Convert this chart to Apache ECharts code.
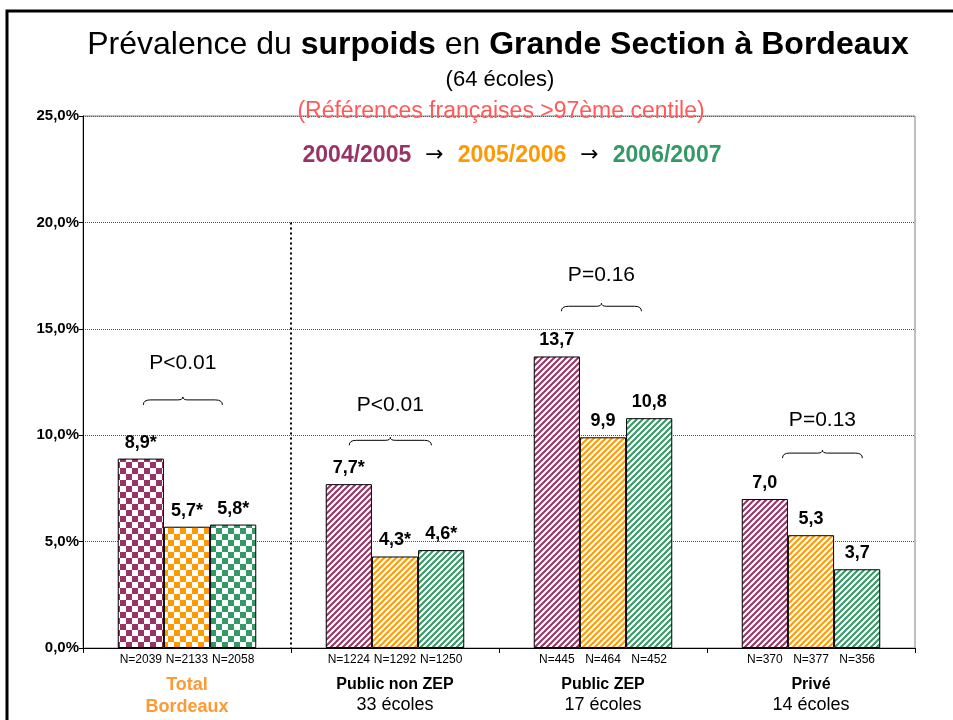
<!DOCTYPE html>
<html>
<head>
<meta charset="utf-8">
<script src="https://cdn.jsdelivr.net/npm/echarts@6/dist/echarts.min.js"></script>
<style>
  html, body { margin: 0; padding: 0; background: #fff; }
  #chart { width: 953px; height: 720px; }
</style>
</head>
<body>
<div id="chart"></div>
<script>
// data
const groups = ['Total', 'Public non ZEP', 'Public ZEP', 'Privé'];
const groupSub = ['Bordeaux', '33 écoles', '17 écoles', '14 écoles'];
const seasons = ['2004/2005', '2005/2006', '2006/2007'];

const prev0405 = [8.9, 7.7, 13.7, 7.0];
const prev0506 = [5.7, 4.3, 9.9, 5.3];
const prev0607 = [5.8, 4.6, 10.8, 3.7];
const star0405 = ['*', '*', '', ''];
const star0506 = ['*', '*', '', ''];
const star0607 = ['*', '*', '', ''];

const n0405 = [2039, 1224, 445, 370];
const n0506 = [2133, 1292, 464, 377];
const n0607 = [2058, 1250, 452, 356];

const pText = ['P<0.01', 'P<0.01', 'P=0.16', 'P=0.13'];
const pBraceVal = [11.8, 9.9, 16.2, 9.3];   // y of brace (in %)
const pTextVal = [13.4, 11.4, 17.5, 10.7];  // y of p label (in %)

const yTicks = [0, 5, 10, 15, 20, 25];

// layout / style
const colors = ['#993366', '#FF9900', '#339966'];
const barFrac = 0.222;
// brace extent as a fraction of category width, relative to category centre
const braceSpan = [[-0.21, 0.17], [-0.22, 0.175], [-0.2, 0.185], [-0.137, 0.247]];

function checker(col) {
    const c = document.createElement('canvas');
    c.width = 12; c.height = 12;
    const ctx = c.getContext('2d');
    ctx.fillStyle = '#fff';
    ctx.fillRect(0, 0, 12, 12);
    ctx.fillStyle = col;
    ctx.fillRect(0, 0, 6, 6);
    ctx.fillRect(6, 6, 6, 6);
    return { image: c, repeat: 'repeat' };
}

function stripes(col) {
    const p = 6;
    const c = document.createElement('canvas');
    c.width = p; c.height = p;
    const ctx = c.getContext('2d');
    ctx.fillStyle = '#fff';
    ctx.fillRect(0, 0, p, p);
    ctx.strokeStyle = col;
    ctx.lineWidth = 2;
    ctx.beginPath();
    ctx.moveTo(-1, p + 1); ctx.lineTo(p + 1, -1);
    ctx.moveTo(-1, 1); ctx.lineTo(1, -1);
    ctx.moveTo(p - 1, p + 1); ctx.lineTo(p + 1, p - 1);
    ctx.stroke();
    return { image: c, repeat: 'repeat' };
}

const checkers = colors.map(checker);
const stripeFills = colors.map(stripes);

function fmt(v) {
    return v.toFixed(1).replace('.', ',');
}

function barSeries(name, values, stars, s) {
    return {
        name: name,
        type: 'bar',
        barWidth: (barFrac * 100) + '%',
        barGap: '0%',
        data: values.map((v, i) => ({
            value: v,
            itemStyle: { color: i === 0 ? checkers[s] : stripeFills[s] }
        })),
        itemStyle: { borderColor: '#000', borderWidth: 1 },
        label: {
            show: true,
            position: 'top',
            distance: 7,
            fontFamily: 'Liberation Sans, Arial',
            fontWeight: 'bold',
            fontSize: 18,
            color: '#000',
            formatter: p => fmt(p.value) + stars[p.dataIndex]
        },
        z: 3
    };
}

const nData = [];
[n0405, n0506, n0607].forEach((arr, s) => {
    arr.forEach((n, i) => nData.push([i, s, n]));
});

const braceData = pText.map((t, i) => [i, pBraceVal[i], pTextVal[i]]);

var chartDom = document.getElementById('chart');
var myChart = echarts.init(chartDom);

var option = {
    animation: false,
    backgroundColor: '#fff',
    textStyle: { fontFamily: 'Liberation Sans, Arial' },
    title: [
        {
            left: 493, top: 24, textAlign: 'center',
            text: '{n|Prévalence du }{b|surpoids}{n| en }{b|Grande Section à Bordeaux}',
            textStyle: {
                fontWeight: 'normal',
                rich: {
                    n: { fontSize: 32, color: '#000', fontWeight: 'normal', fontFamily: 'Liberation Sans' },
                    b: { fontSize: 32, color: '#000', fontWeight: 'bold', fontFamily: 'Liberation Sans' }
                }
            }
        },
        {
            left: 495, top: 64, textAlign: 'center',
            text: '(64 écoles)',
            textStyle: { fontSize: 22, fontWeight: 'normal', color: '#000', fontFamily: 'Liberation Sans' }
        },
        {
            left: 496, top: 95, textAlign: 'center',
            text: '(Références françaises >97ème centile)',
            textStyle: { fontSize: 23, fontWeight: 'normal', color: '#FF5A5A', fontFamily: 'Liberation Sans' }
        },
        {
            left: 507, top: 139, textAlign: 'center',
            text: '{a|' + seasons[0] + '}{r|  →  }{b|' + seasons[1] + '}{r|  →  }{c|' + seasons[2] + '}',
            textStyle: {
                rich: {
                    a: { fontSize: 23, fontWeight: 'bold', color: colors[0], fontFamily: 'Liberation Sans' },
                    b: { fontSize: 23, fontWeight: 'bold', color: colors[1], fontFamily: 'Liberation Sans' },
                    c: { fontSize: 23, fontWeight: 'bold', color: colors[2], fontFamily: 'Liberation Sans' },
                    r: { fontSize: 22, fontWeight: 'normal', color: '#000', fontFamily: 'DejaVu Sans' }
                }
            }
        }
    ],
    graphic: [
        {
            type: 'rect',
            shape: { x: 7, y: 11, width: 970, height: 730 },
            style: { fill: 'none', stroke: '#000', lineWidth: 3 },
            silent: true
        }
    ],
    grid: {
        left: 83, right: 38, top: 116, bottom: 72,
        show: true, borderColor: '#808080', borderWidth: 1
    },
    xAxis: {
        type: 'category',
        data: groups,
        axisLine: { lineStyle: { color: '#000', width: 1 } },
        axisTick: { show: true, length: 5, lineStyle: { color: '#000' } },
        axisLabel: {
            margin: 26,
            interval: 0,
            formatter: (v, i) => i === 0
                ? '{o|' + v + '}\n{o|' + groupSub[i] + '}'
                : '{b|' + v + '}\n{n|' + groupSub[i] + '}',
            rich: {
                o: { fontSize: 18, fontWeight: 'bold', color: '#FF9933', lineHeight: 22, fontFamily: 'Liberation Sans' },
                b: { fontSize: 16, fontWeight: 'bold', color: '#000', lineHeight: 21, fontFamily: 'Liberation Sans' },
                n: { fontSize: 18, color: '#000', lineHeight: 21, fontFamily: 'Liberation Sans' }
            }
        }
    },
    yAxis: {
        type: 'value',
        min: yTicks[0],
        max: yTicks[yTicks.length - 1],
        interval: 5,
        axisLine: { show: true, lineStyle: { color: '#000' } },
        axisTick: { show: true, length: 4, lineStyle: { color: '#000' } },
        axisLabel: {
            margin: 4,
            fontSize: 15,
            fontWeight: 'bold',
            color: '#000',
            padding: [8, 0, 0, 0],
            fontFamily: 'Liberation Sans',
            formatter: v => fmt(v) + '%'
        },
        splitLine: { lineStyle: { type: 'dotted', color: '#555', width: 1 } }
    },
    series: [
        barSeries(seasons[0], prev0405, star0405, 0),
        barSeries(seasons[1], prev0506, star0506, 1),
        barSeries(seasons[2], prev0607, star0607, 2),
        {
            // N= labels under each bar
            type: 'custom',
            data: nData,
            encode: { x: 0, y: 1 },
            silent: true,
            z: 4,
            renderItem: function (params, api) {
                const cat = api.value(0);
                const s = api.value(1);
                const n = api.value(2);
                const p = api.coord([cat, 0]);
                const w = api.size([1, 0])[0];
                return {
                    type: 'text',
                    style: {
                        text: 'N=' + n,
                        x: p[0] + (s - 1) * w * barFrac,
                        y: p[1] + 6,
                        align: 'center',
                        verticalAlign: 'top',
                        font: '12px "Liberation Sans", Arial',
                        fill: '#000'
                    }
                };
            }
        },
        {
            // braces with p values
            type: 'custom',
            data: braceData,
            encode: { x: 0, y: 1 },
            silent: true,
            clip: false,
            z: 4,
            renderItem: function (params, api) {
                const i = api.value(0);
                const pb = api.coord([i, api.value(1)]);
                const pt = api.coord([i, api.value(2)]);
                const w = api.size([1, 0])[0];
                const x1 = pb[0] + braceSpan[i][0] * w;
                const x2 = pb[0] + braceSpan[i][1] * w;
                const xm = (x1 + x2) / 2;
                const yPeak = pb[1];
                const yLine = yPeak + 3;
                const yArm = yPeak + 8;
                const d = 'M' + x1 + ',' + yArm +
                    ' Q' + x1 + ',' + yLine + ' ' + (x1 + 7) + ',' + yLine +
                    ' L' + (xm - 5) + ',' + yLine +
                    ' Q' + xm + ',' + yLine + ' ' + xm + ',' + yPeak +
                    ' Q' + xm + ',' + yLine + ' ' + (xm + 5) + ',' + yLine +
                    ' L' + (x2 - 7) + ',' + yLine +
                    ' Q' + x2 + ',' + yLine + ' ' + x2 + ',' + yArm;
                return {
                    type: 'group',
                    children: [
                        {
                            type: 'path',
                            shape: { pathData: d },
                            style: { fill: 'none', stroke: '#000', lineWidth: 1 }
                        },
                        {
                            type: 'text',
                            style: {
                                text: pText[i],
                                x: xm,
                                y: pt[1],
                                align: 'center',
                                verticalAlign: 'middle',
                                font: '21px "Liberation Sans", Arial',
                                fill: '#000'
                            }
                        }
                    ]
                };
            }
        },
        {
            // dotted divider between Total and the sub-groups
            type: 'custom',
            data: [[0, 20]],
            encode: { x: 0, y: 1 },
            silent: true,
            z: 2,
            renderItem: function (params, api) {
                const top = api.coord([api.value(0), api.value(1)]);
                const bot = api.coord([api.value(0), 0]);
                const w = api.size([1, 0])[0];
                const x = top[0] + w / 2;
                return {
                    type: 'line',
                    shape: { x1: x, y1: top[1], x2: x, y2: bot[1] },
                    style: { stroke: '#000', lineWidth: 2, lineDash: [2, 3] }
                };
            }
        }
    ]
};

myChart.setOption(option);
</script>
</body>
</html>
